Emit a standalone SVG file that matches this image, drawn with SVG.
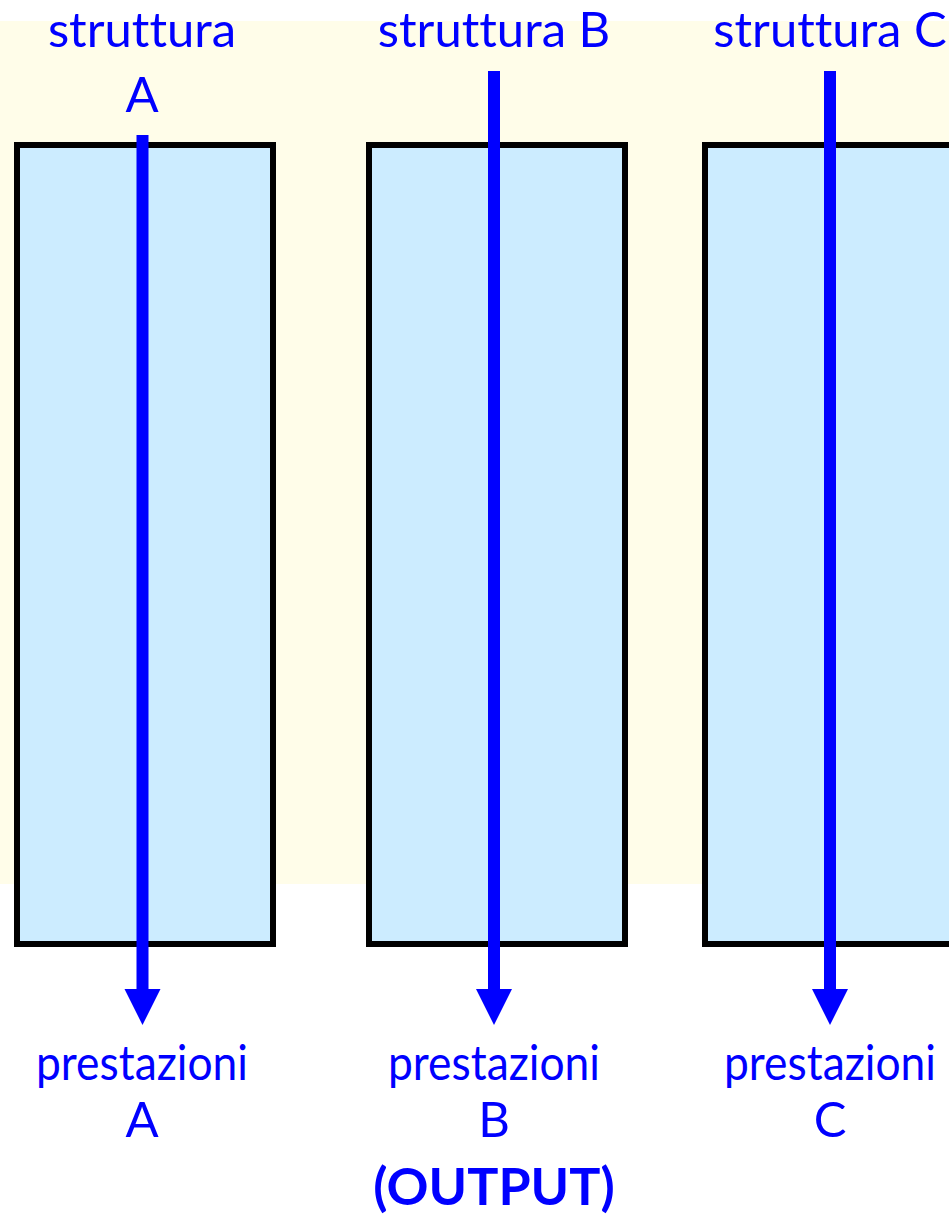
<svg xmlns="http://www.w3.org/2000/svg" width="949" height="1215" viewBox="0 0 949 1215">
<defs>
<style>
.box{fill:#CCECFF;stroke:#000;stroke-width:6}
.lbl{font-family:Lato,"Liberation Sans",sans-serif;font-size:49px;fill:#0000FF;text-anchor:middle;font-variant-ligatures:none}
.out{font-family:Lato,"Liberation Sans",sans-serif;font-size:52px;font-weight:bold;fill:#0000FF;text-anchor:middle}
.shaft{stroke:#0000FF;stroke-width:12;fill:none}
.head{fill:#0000FF}
</style>
</defs>
<rect x="0" y="0" width="949" height="1215" fill="#FFFFFF"/>
<rect id="background" x="0" y="21" width="949" height="863" fill="#FFFDE9"/>
<g id="nodeA">
<rect class="box" x="17" y="145" width="256" height="799"/>
<text class="lbl" x="142" y="47">struttura</text>
<text class="lbl" x="142" y="112">A</text>
<text class="lbl" x="142" y="1080" textLength="212" lengthAdjust="spacingAndGlyphs">prestazioni</text>
<text class="lbl" x="142" y="1137">A</text>
</g>
<g id="nodeB">
<rect class="box" x="369" y="145" width="256" height="799"/>
<text class="lbl" x="494" y="47">struttura B</text>
<text class="lbl" x="494" y="1080" textLength="212" lengthAdjust="spacingAndGlyphs">prestazioni</text>
<text class="lbl" x="494" y="1137">B</text>
<text class="out" x="494" y="1205">(OUTPUT)</text>
</g>
<g id="nodeC">
<rect class="box" x="705" y="145" width="256" height="799"/>
<text class="lbl" x="830" y="47">struttura C</text>
<text class="lbl" x="830" y="1080" textLength="212" lengthAdjust="spacingAndGlyphs">prestazioni</text>
<text class="lbl" x="830" y="1137">C</text>
</g>
<g id="connectors">
<line class="shaft" x1="142.5" y1="135" x2="142.5" y2="992"/>
<polygon class="head" points="124.5,989 160.5,989 142.5,1025"/>
<line class="shaft" x1="494" y1="71" x2="494" y2="992"/>
<polygon class="head" points="476,989 512,989 494,1025"/>
<line class="shaft" x1="830" y1="71" x2="830" y2="992"/>
<polygon class="head" points="812,989 848,989 830,1025"/>
</g>
</svg>
